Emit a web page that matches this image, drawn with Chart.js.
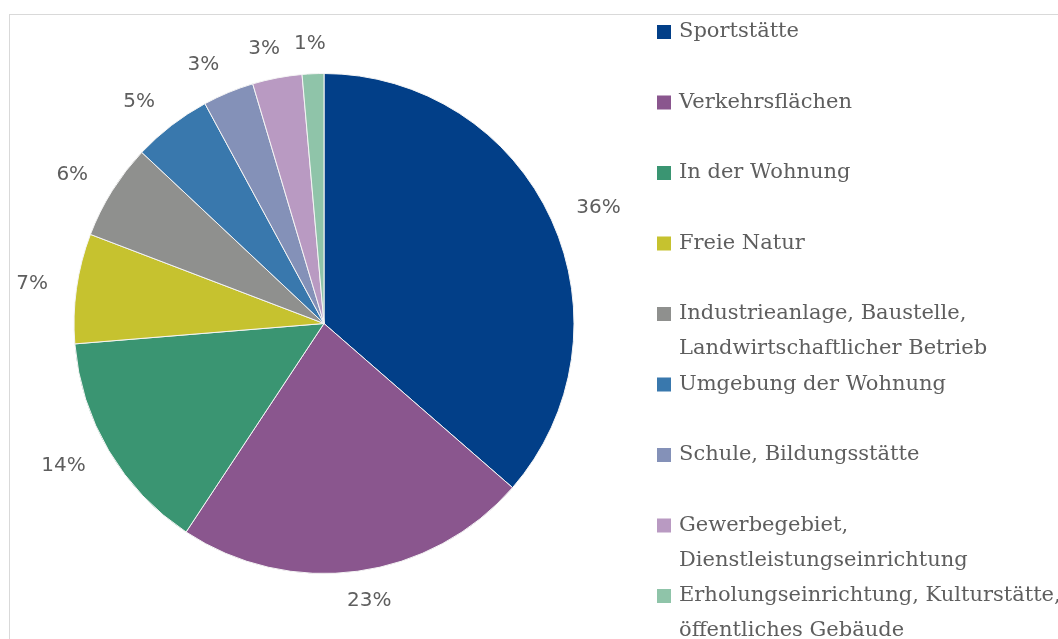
<!DOCTYPE html>
<html>
<head>
<meta charset="utf-8">
<script src="https://cdn.jsdelivr.net/npm/chart.js@4"></script>
<style>
  html, body { margin: 0; padding: 0; background: #fff; }
  #wrap { position: relative; width: 1058px; height: 639px; overflow: hidden; }
  #frame {
    position: absolute; left: 9px; top: 14px; right: -5px; bottom: -5px;
    border-top: 1px solid #d9d9d9; border-left: 1px solid #d9d9d9;
  }
  #pie { position: absolute; left: 0; top: 0; }
</style>
</head>
<body>
<div id="wrap">
  <div id="frame"></div>
  <canvas id="pie" width="1058" height="639"></canvas>
</div>
<script>
// Unfallorte, Anteil in Prozent
const CATEGORIES = [
  ['Sportstätte'],
  ['Verkehrsflächen'],
  ['In der Wohnung'],
  ['Freie Natur'],
  ['Industrieanlage, Baustelle,', 'Landwirtschaftlicher Betrieb'],
  ['Umgebung der Wohnung'],
  ['Schule, Bildungsstätte'],
  ['Gewerbegebiet,', 'Dienstleistungseinrichtung'],
  ['Erholungseinrichtung, Kulturstätte,', 'öffentliches Gebäude'],
];
const SHARES = [36.4, 22.9, 14.4, 7.1, 6.2, 5.1, 3.3, 3.2, 1.4];
const COLORS = [
  '#023f88', '#8a568e', '#3a9572', '#c6c22f', '#8f908e',
  '#3978ad', '#8491b8', '#b99ac2', '#8fc4a9',
];

const TEXT_COLOR = '#5e5e5e';

// percentage labels outside each slice
const percentLabels = {
  id: 'percentLabels',
  afterDatasetsDraw(chart) {
    const ctx = chart.ctx;
    const meta = chart.getDatasetMeta(0);
    const data = chart.data.datasets[0].data;
    const total = data.reduce(function (a, b) { return a + b; }, 0);
    ctx.save();
    ctx.font = '20px "DejaVu Sans"';
    ctx.fillStyle = TEXT_COLOR;
    ctx.textAlign = 'center';
    ctx.textBaseline = 'middle';
    meta.data.forEach(function (arc, i) {
      const p = arc.getProps(['x', 'y', 'startAngle', 'endAngle', 'outerRadius'], true);
      const mid = (p.startAngle + p.endAngle) / 2;
      const text = Math.round(data[i] / total * 100) + '%';
      const hw = ctx.measureText(text).width / 2 * 0.8;
      const dx = Math.cos(mid), dy = Math.sin(mid);
      const x = p.x + dx * (p.outerRadius + 32) + Math.sign(dx) * hw * Math.min(1, 3 * Math.abs(dx));
      const y = p.y + dy * (p.outerRadius + 30);
      ctx.fillText(text, x, y);
    });
    ctx.restore();
  },
};

// legend on the right, one 70px slot per category
const sideLegend = {
  id: 'sideLegend',
  afterDraw(chart, args, opts) {
    const ctx = chart.ctx;
    const ds = chart.data.datasets[0];
    ctx.save();
    ctx.font = opts.font;
    ctx.textBaseline = 'middle';
    ctx.textAlign = 'left';
    chart.data.labels.forEach(function (lines, i) {
      const y0 = opts.top + i * opts.slot;
      ctx.fillStyle = ds.backgroundColor[i];
      ctx.fillRect(opts.left, y0 - opts.box / 2, opts.box, opts.box);
      ctx.fillStyle = TEXT_COLOR;
      lines.forEach(function (line, j) {
        ctx.fillText(line, opts.left + opts.box + 8, y0 + j * opts.lineStep);
      });
    });
    ctx.restore();
  },
};

new Chart(document.getElementById('pie'), {
  type: 'pie',
  data: {
    labels: CATEGORIES,
    datasets: [{
      data: SHARES,
      backgroundColor: COLORS,
      borderColor: '#f4f4f4',
      borderWidth: 1,
      radius: 250,
    }],
  },
  options: {
    responsive: false,
    devicePixelRatio: 1,
    animation: false,
    layout: { padding: { left: 74, top: 73, right: 484, bottom: 65 } },
    plugins: {
      legend: { display: false },
      tooltip: { enabled: false },
      sideLegend: {
        left: 657, top: 32, slot: 70.5, lineStep: 35, box: 14,
        font: '21px "DejaVu Serif"',
      },
    },
  },
  plugins: [percentLabels, sideLegend],
});
</script>
</body>
</html>
